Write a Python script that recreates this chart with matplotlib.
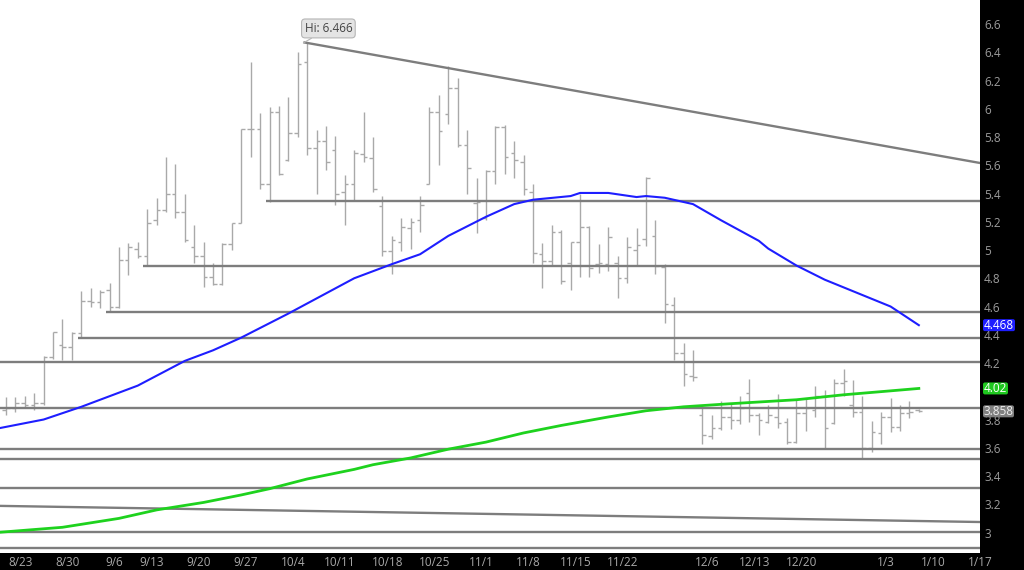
import matplotlib
matplotlib.use("Agg")
import matplotlib.pyplot as plt
import matplotlib.transforms as mtransforms
from matplotlib.patches import FancyBboxPatch
import numpy as np
import pandas as pd

plt.rcParams["font.family"] = ["Open Sans", "DejaVu Sans"]

# trading calendar (exchange holidays removed)
HOLIDAYS = ["2021-09-06", "2021-11-25", "2021-12-24", "2022-01-17"]

# daily OHLC, first bar 2021-08-20, last bar 2022-01-07
OPEN = [3.87, 3.88, 3.92, 3.90, 3.92, 4.24, 4.33, 4.31, 4.41, 4.64,
        4.63, 4.72, 4.60, 4.93, 5.01, 4.96, 5.21, 5.28, 5.40, 5.27,
        5.02, 4.96, 4.81, 4.76, 5.04, 5.19, 5.86, 5.86, 5.47, 5.98,
        5.64, 5.83, 6.33, 5.72, 5.77, 5.71, 5.41, 5.47, 5.68, 5.65,
        5.31, 4.99, 5.06, 5.155, 5.21, 5.47, 5.98, 5.96, 6.15, 5.74,
        5.33, 5.23, 5.56, 5.87, 5.69, 5.62, 5.41, 4.97, 4.92, 5.13,
        4.91, 5.055, 5.16, 4.90, 4.90, 4.91, 4.80, 5.00, 5.08, 5.10,
        4.88, 4.61, 4.27, 4.11, 3.83, 3.68, 3.74, 3.82, 3.80, 3.99,
        3.83, 3.78, 3.82, 3.78, 3.64, 3.845, 3.87, 3.97, 3.775, 4.06,
        3.90, 3.85, 3.60, 3.705, 3.815, 3.75, 3.845, 3.865]
HIGH = [3.96, 3.96, 3.97, 3.99, 4.25, 4.42, 4.51, 4.42, 4.71, 4.73,
        4.72, 4.77, 5.02, 5.05, 5.06, 5.29, 5.37, 5.66, 5.61, 5.40,
        5.18, 5.06, 4.91, 5.05, 5.19, 5.86, 6.33, 5.97, 6.01, 6.02,
        6.08, 6.40, 6.466, 5.85, 5.88, 5.81, 5.53, 5.71, 5.98, 5.80,
        5.38, 5.10, 5.23, 5.225, 5.38, 6.01, 6.10, 6.30, 6.22, 5.85,
        5.51, 5.57, 5.88, 5.885, 5.77, 5.67, 5.47, 5.05, 5.18, 5.14,
        5.06, 5.40, 5.17, 5.04, 5.16, 4.96, 5.09, 5.155, 5.52, 5.21,
        4.90, 4.67, 4.34, 4.29, 3.90, 3.83, 3.93, 3.92, 3.97, 4.09,
        3.845, 3.90, 3.98, 3.81, 3.94, 3.945, 4.04, 4.01, 4.09, 4.16,
        4.08, 3.97, 3.79, 3.85, 3.95, 3.90, 3.93, 3.875]
LOW = [3.83, 3.85, 3.88, 3.87, 3.90, 4.23, 4.22, 4.22, 4.38, 4.60,
       4.59, 4.56, 4.59, 4.82, 4.94, 4.89, 5.18, 5.27, 5.23, 5.06,
       4.91, 4.74, 4.75, 4.75, 5.00, 5.19, 5.66, 5.43, 5.34, 5.53,
       5.63, 5.80, 5.67, 5.40, 5.57, 5.32, 5.18, 5.35, 5.62, 5.41,
       4.96, 4.83, 4.99, 5.01, 5.13, 5.465, 5.60, 5.89, 5.73, 5.40,
       5.12, 5.21, 5.47, 5.54, 5.51, 5.39, 4.91, 4.73, 4.89, 4.76,
       4.72, 4.81, 4.81, 4.84, 4.85, 4.66, 4.77, 4.89, 5.03, 4.83,
       4.48, 4.22, 4.04, 4.07, 3.63, 3.66, 3.725, 3.73, 3.77, 3.78,
       3.69, 3.775, 3.74, 3.63, 3.635, 3.72, 3.82, 3.60, 3.77, 3.97,
       3.82, 3.53, 3.57, 3.63, 3.71, 3.72, 3.81, 3.855]
CLOSE = [3.88, 3.92, 3.90, 3.92, 4.24, 4.42, 4.31, 4.41, 4.64, 4.63,
         4.70, 4.60, 4.93, 5.02, 4.96, 5.19, 5.28, 5.40, 5.27, 5.07,
         4.96, 4.81, 4.76, 5.04, 5.19, 5.86, 5.86, 5.47, 5.98, 5.54,
         5.83, 6.32, 5.72, 5.77, 5.62, 5.40, 5.47, 5.69, 5.66, 5.43,
         4.99, 5.07, 5.16, 5.20, 5.32, 5.98, 5.84, 6.15, 5.74, 5.58,
         5.34, 5.56, 5.87, 5.66, 5.64, 5.43, 4.98, 4.92, 5.13, 4.78,
         5.055, 5.16, 4.87, 4.91, 5.09, 4.80, 5.02, 5.035, 5.51, 4.89,
         4.62, 4.27, 4.12, 4.10, 3.69, 3.74, 3.82, 3.80, 3.88, 3.83,
         3.80, 3.83, 3.775, 3.64, 3.845, 3.88, 3.97, 3.74, 4.06, 4.07,
         3.85, 3.60, 3.71, 3.82, 3.75, 3.845, 3.85, 3.858]

# moving averages
BLUE_MA_DATES = ["2021-08-19", "2021-08-26", "2021-09-01", "2021-09-10", "2021-09-17",
                 "2021-09-22", "2021-09-27", "2021-10-04", "2021-10-13", "2021-10-19",
                 "2021-10-22", "2021-10-27", "2021-11-02", "2021-11-05", "2021-11-09",
                 "2021-11-15", "2021-11-16", "2021-11-19", "2021-11-24", "2021-11-26",
                 "2021-11-30", "2021-12-03", "2021-12-08", "2021-12-14", "2021-12-15",
                 "2021-12-20", "2021-12-23", "2022-01-04", "2022-01-07"]
BLUE_MA = [3.735, 3.80, 3.89, 4.04, 4.215, 4.29, 4.38, 4.55, 4.80, 4.90,
           4.97, 5.10, 5.235, 5.325, 5.356, 5.382, 5.404, 5.404, 5.375, 5.382,
           5.37, 5.325, 5.21, 5.065, 5.01, 4.89, 4.79, 4.60, 4.468]
GREEN_MA_DATES = ["2021-08-19", "2021-08-30", "2021-09-08", "2021-09-14", "2021-09-21",
                  "2021-09-27", "2021-09-30", "2021-10-06", "2021-10-13", "2021-10-15",
                  "2021-10-21", "2021-10-27", "2021-11-02", "2021-11-08", "2021-11-12",
                  "2021-11-19", "2021-11-26", "2021-12-02", "2021-12-09", "2021-12-20",
                  "2021-12-28", "2022-01-04", "2022-01-07"]
GREEN_MA = [3.00, 3.037, 3.10, 3.16, 3.213, 3.266, 3.31, 3.379, 3.447, 3.48,
            3.528, 3.59, 3.64, 3.705, 3.758, 3.818, 3.862, 3.89, 3.912, 3.94,
            3.975, 4.003, 4.02]

# drawn levels: start date (None = whole chart) and price
LEVEL_STARTS = ["2021-09-30", "2021-09-13", "2021-09-07", "2021-09-01",
                None, None, None, None, None, None, None]
LEVELS = [5.347, 4.887, 4.561, 4.377, 4.207, 3.881, 3.591, 3.520, 3.315, 3.004, 2.890]

RESIST_DATES = ["2021-10-06", "2022-01-14"]
RESIST = [6.466, 5.634]
SUPPORT_DATES = ["2021-08-19", "2022-01-14"]
SUPPORT = [3.189, 3.076]

WEEK_LABELS = ["2021-08-23", "2021-08-30", "2021-09-06", "2021-09-13", "2021-09-20",
               "2021-09-27", "2021-10-04", "2021-10-11", "2021-10-18", "2021-10-25",
               "2021-11-01", "2021-11-08", "2021-11-15", "2021-11-22", "2021-12-06",
               "2021-12-13", "2021-12-20", "2022-01-03", "2022-01-10", "2022-01-17"]
# 4.0 sits under the green price box, so it is not labelled
Y_TICKS = [3.0, 3.2, 3.4, 3.6, 3.8, 4.2, 4.4, 4.6, 4.8,
           5.0, 5.2, 5.4, 5.6, 5.8, 6.0, 6.2, 6.4, 6.6]

LAST_PRICE = 3.858

CAL = pd.bdate_range("2021-08-19", "2022-01-31", freq="C", holidays=HOLIDAYS)


def pos(d):
    # bar index; first bar (2021-08-20) sits at 0
    return CAL.searchsorted(pd.Timestamp(d)) - 1


def price_box(ax, trans, yv, txt, bg, fg, width_px):
    ax_w = ax.get_position().width * ax.figure.get_figwidth() * ax.figure.dpi
    ax_h = ax.get_position().height * ax.figure.get_figheight() * ax.figure.dpi
    y0, y1 = ax.get_ylim()
    px_y = (y1 - y0) / ax_h
    x0 = 1.0 + 3 / ax_w
    w = width_px / ax_w
    h = 12 * px_y
    patch = FancyBboxPatch((x0, yv - h / 2), w, h, transform=trans, clip_on=False,
                           boxstyle="round,pad=0,rounding_size=0.002",
                           mutation_aspect=px_y * ax_w, fc=bg, ec="none", zorder=6)
    ax.add_patch(patch)
    ax.text(x0 + w / 2, yv, txt, transform=trans, ha="center", va="center",
            fontsize=8.5, color=fg, clip_on=False, zorder=7)


def main() -> None:
    fig = plt.figure(figsize=(10.24, 5.70), dpi=100, facecolor="black")
    ax = fig.add_axes([0, 17 / 570, 980 / 1024, 553 / 570])
    ax.set_facecolor("white")

    x = np.arange(len(OPEN))
    bar_col = "#a9a9a9"
    ax.vlines(x, LOW, HIGH, color=bar_col, lw=1.0, zorder=2)
    ax.hlines(OPEN, x - 0.38, x, color=bar_col, lw=1.0, zorder=2)
    ax.hlines(CLOSE, x, x + 0.38, color=bar_col, lw=1.0, zorder=2)

    line_col = "#7d7d7d"
    right = 120
    for start, lvl in zip(LEVEL_STARTS, LEVELS):
        x0 = -5 if start is None else pos(start) - 0.4
        ax.plot([x0, right], [lvl, lvl], color=line_col, lw=1.7, zorder=3,
                solid_capstyle="butt")

    # sloped trend lines, extended to the right edge
    rx = [pos(d) for d in RESIST_DATES]
    slope = (RESIST[1] - RESIST[0]) / (rx[1] - rx[0])
    x0 = rx[0] - 0.4
    ax.plot([x0, right], [RESIST[0] + slope * (x0 - rx[0]), RESIST[0] + slope * (right - rx[0])],
            color=line_col, lw=1.7, zorder=3, solid_capstyle="butt")
    sx = [pos(d) for d in SUPPORT_DATES]
    slope = (SUPPORT[1] - SUPPORT[0]) / (sx[1] - sx[0])
    ax.plot([-5, right], [SUPPORT[0] + slope * (-5 - sx[0]), SUPPORT[0] + slope * (right - sx[0])],
            color=line_col, lw=1.7, zorder=3)

    ax.plot([pos(d) for d in BLUE_MA_DATES], BLUE_MA, color="#1e1eff", lw=1.5, zorder=4)
    ax.plot([pos(d) for d in GREEN_MA_DATES], GREEN_MA, color="#1ed21e", lw=2.0, zorder=4)

    ax.set_xlim(-0.64, 103.5)
    ax.set_ylim(2.855, 6.77)
    for s in ax.spines.values():
        s.set_visible(False)

    ax.yaxis.tick_right()
    ax.set_yticks(Y_TICKS)
    ax.set_yticklabels([f"{v:g}" for v in Y_TICKS])
    ax.tick_params(axis="y", length=0, pad=3, labelsize=8.5, labelcolor="#9c9c9c")

    ax.set_xticks([pos(d) + 0.5 for d in WEEK_LABELS])
    ax.set_xticklabels([f"{pd.Timestamp(d).month}/{pd.Timestamp(d).day}" for d in WEEK_LABELS])
    ax.tick_params(axis="x", length=0, pad=2.5, labelsize=8.5, labelcolor="#a8a8a8")

    # price boxes on the right scale
    trans = mtransforms.blended_transform_factory(ax.transAxes, ax.transData)
    price_box(ax, trans, BLUE_MA[-1], f"{BLUE_MA[-1]:.3f}", "#1e1eff", "white", 32)
    price_box(ax, trans, GREEN_MA[-1], f"{GREEN_MA[-1]:.2f}", "#1fc81f", "white", 25)
    price_box(ax, trans, LAST_PRICE, f"{LAST_PRICE:.3f}", "#808080", "#eeeeee", 31)

    ax.annotate(f"Hi: {max(HIGH):.3f}", xy=(pos("2021-10-06") - 0.4, max(HIGH)),
                xytext=(25, 14.5), textcoords="offset pixels", ha="center", va="center",
                fontsize=8.5, color="#444444", zorder=6,
                bbox=dict(boxstyle="round,pad=0.25,rounding_size=0.3", fc="#e4e4e4", ec="#b5b5b5", lw=0.8),
                arrowprops=dict(arrowstyle="-", color="#b5b5b5", lw=0.8, shrinkA=0, shrinkB=0))

    fig.savefig("out.png", dpi=100, facecolor="black")
    plt.close(fig)


if __name__ == "__main__":
    main()
